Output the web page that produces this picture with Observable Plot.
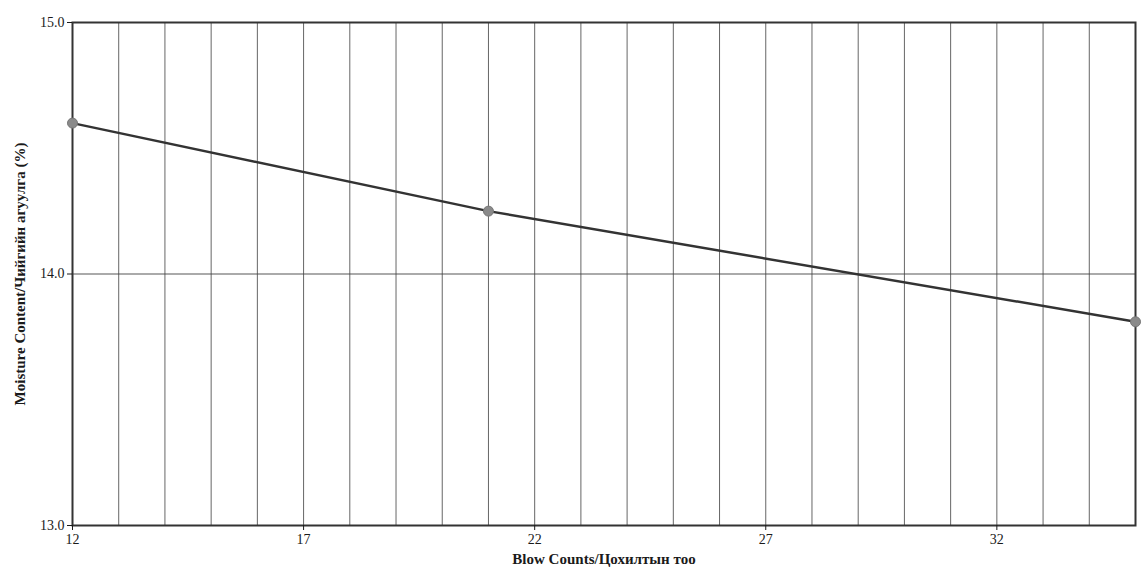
<!DOCTYPE html>
<html>
<head>
<meta charset="utf-8">
<script src="https://cdn.jsdelivr.net/npm/d3@7"></script>
<script src="https://cdn.jsdelivr.net/npm/@observablehq/plot@0.6"></script>
<style>
  html, body { margin: 0; padding: 0; background: #fff; }
  #chart { width: 1144px; height: 584px; }
  #chart svg text { font-family: 'Liberation Serif', 'DejaVu Serif', serif !important; }
</style>
</head>
<body>
<div id="chart"></div>
<script>
const blowCounts = [12, 21, 35];
const moisture = [14.6, 14.25, 13.81];
const xTicks = [12, 17, 22, 27, 32];
const yTicks = [13.0, 14.0, 15.0];
const xGrid = d3.range(12, 36);
const yGrid = [14.0];
const xLabel = "Blow Counts/Цохилтын тоо";
const yLabel = "Moisture Content/Чийгийн агуулга (%)";

const data = blowCounts.map((b, i) => ({x: b, y: moisture[i]}));
const serif = "'Liberation Serif', 'DejaVu Serif', serif";

const chart = Plot.plot({
  width: 1144,
  height: 584,
  marginLeft: 72,
  marginRight: 9,
  marginTop: 22,
  marginBottom: 59,
  style: {fontFamily: serif, fontSize: "14px", color: "#1a1a1a", background: "#fff"},
  x: {domain: [12, 35]},
  y: {domain: [13, 15]},
  marks: [
    Plot.gridX(xGrid, {stroke: "#555", strokeOpacity: 0.9, strokeWidth: 1}),
    Plot.gridY(yGrid, {stroke: "#444", strokeOpacity: 0.9, strokeWidth: 1.2}),
    Plot.frame({stroke: "#333", strokeWidth: 2}),
    Plot.axisX(xTicks, {tickSize: 5, tickPadding: 4, fontSize: 14, fontFamily: serif, label: xLabel, labelAnchor: "center", labelArrow: "none", labelOffset: 38}),
    Plot.axisY(yTicks, {tickSize: 5, tickPadding: 3, fontSize: 14, fontFamily: serif, tickFormat: d3.format(".1f"), label: yLabel, labelAnchor: "center", labelArrow: "none", labelOffset: 58}),
    Plot.line(data, {x: "x", y: "y", stroke: "#333", strokeWidth: 2.5}),
    Plot.dot(data, {x: "x", y: "y", r: 5, fill: "#8a8a8a", stroke: "#777", strokeWidth: 1})
  ]
});
chart.querySelectorAll("g[aria-label='x-axis label'] text, g[aria-label='y-axis label'] text").forEach(t => {
  t.setAttribute("font-weight", "bold");
  t.setAttribute("font-size", "15");
});
document.getElementById("chart").appendChild(chart);
</script>
</body>
</html>
